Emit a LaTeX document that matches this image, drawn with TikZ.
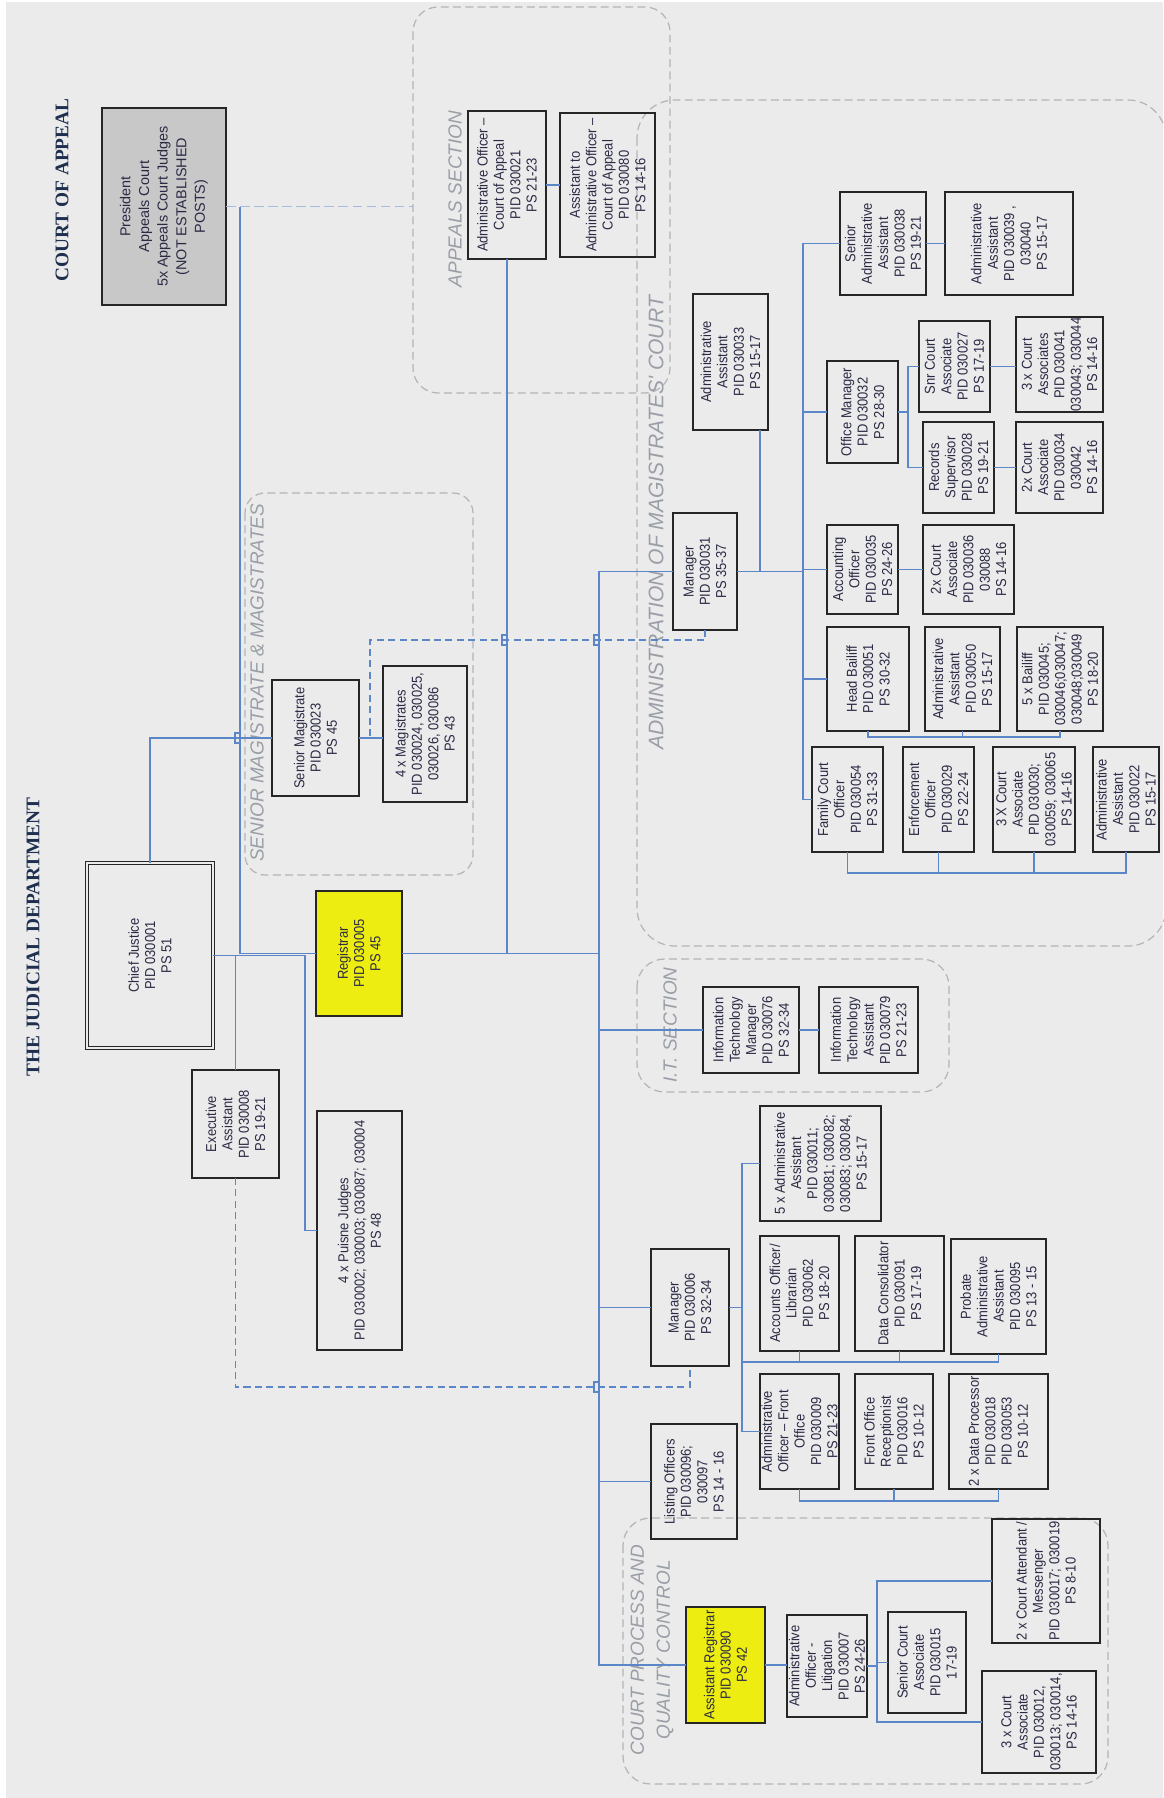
\documentclass[tikz,border=0pt]{standalone}
\usepackage{fontspec}
\usepackage{xcolor}
\newfontfamily\boxfont[FakeStretch=0.9]{Liberation Sans}
\newfontfamily\widefont{Liberation Sans}
\newfontfamily\titlefont{Liberation Serif}
\definecolor{bgc}{HTML}{EBEBEB}
\definecolor{boxline}{HTML}{262626}
\definecolor{boxtext}{HTML}{2A2A45}
\definecolor{linkblue}{HTML}{5B86C8}
\definecolor{framegray}{HTML}{B5B5B5}
\definecolor{labelgray}{HTML}{9A9EA6}
\definecolor{titlenavy}{HTML}{1F2F4F}
\definecolor{regyellow}{HTML}{EDED12}
\definecolor{presgray}{HTML}{C8C8C8}
\tikzset{
  post/.style={draw=boxline,line width=1.1pt,rotate=90,align=center,inner sep=0.5pt,outer sep=0pt,
    text=boxtext,font=\boxfont\fontsize{8.2}{9.3}\selectfont},
  dims/.style 2 args={minimum width=#2*0.02cm,minimum height=#1*0.02cm},
  chiefpost/.style={post,double=bgc,double distance=0.8pt,line width=0.75pt},
  keypost/.style={post,fill=regyellow},
  appealpost/.style={post,fill=presgray,font=\widefont\fontsize{8.2}{10.6}\selectfont},
  conn/.style={draw=linkblue,line width=0.9pt},
  dconn/.style={conn,dash pattern=on 4pt off 2.5pt},
  pconn/.style={draw=linkblue!55,line width=0.9pt,dash pattern=on 5.5pt off 2.5pt},
  secframe/.style={draw=framegray,line width=0.7pt,dash pattern=on 4.5pt off 2.5pt,rounded corners=#1},
  secframe/.default=0.5cm,
  seclabel/.style={rotate=90,text=labelgray,align=center,font=\widefont\itshape\fontsize{10.8}{14.8}\selectfont},
  pagetitle/.style={rotate=90,text=titlenavy,font=\titlefont\bfseries\fontsize{11}{13}\selectfont},
}

\begin{document}
\begin{tikzpicture}[x=0.02cm,y=-0.02cm]
  \useasboundingbox (0,0) rectangle (1163,1798);
  % page
  \fill[bgc] (6,2) rectangle (1163,1798);
  % section frames
  \draw[secframe=0.5cm] (413,7) rectangle (670,393);
  \draw[secframe=0.4cm] (245,493) rectangle (473,875);
  \draw[secframe=0.76cm] (637,100) rectangle (1166,946);
  \draw[secframe=0.55cm] (637,959) rectangle (949,1092);
  \draw[secframe=0.55cm] (623,1518) rectangle (1108,1784);
  \coordinate (appsecw) at (413,206.5);
  % section labels and titles
  \node[pagetitle] (ttlappeal) at (62,190) {COURT OF APPEAL};
  \node[pagetitle] (ttljud) at (33,937) {THE JUDICIAL DEPARTMENT};
  \node[seclabel] (lblapp) at (455,199) {APPEALS SECTION};
  \node[seclabel] (lblmag) at (257,683) {SENIOR MAGISTRATE \& MAGISTRATES};
  \node[seclabel,font=\widefont\itshape\fontsize{12}{14}\selectfont] (lbladm) at (656,523) {ADMINISTRATION OF MAGISTRATES' COURT};
  \node[seclabel] (lblit) at (670,1025) {I.T. SECTION};
  \node[seclabel] (lblcp) at (652,1650) {COURT PROCESS AND\\QUALITY CONTROL};

  % judges
  \node[appealpost,dims={124}{197}] (pres) at (164,206.5) {President\\Appeals Court\\5x Appeals Court Judges\\(NOT ESTABLISHED\\POSTS)};
  \node[chiefpost,dims={126}{185}] (chief) at (150,955.5) {Chief Justice\\PID 030001\\PS 51};
  \node[post,dims={87}{108}] (exec) at (235.5,1124) {Executive\\Assistant\\PID 030008\\PS 19-21};
  \node[keypost,dims={86}{125}] (reg) at (359,953.5) {Registrar\\PID 030005\\PS 45};
  \node[post,dims={85}{239}] (puisne) at (359.5,1230.5) {4 x Puisne Judges\\PID 030002; 030003; 030087; 030004\\PS 48};
  \node[post,dims={87}{116}] (senmag) at (315.5,738) {Senior Magistrate\\PID 030023\\PS 45};
  \node[post,dims={84}{136}] (mags) at (425,734) {4 x Magistrates\\PID 030024, 030025,\\030026, 030086\\PS 43};
  % appeals section
  \node[post,dims={78}{148}] (aoca) at (507,185) {Administrative Officer –\\Court of Appeal\\PID 030021\\PS 21-23};
  \node[post,dims={95}{144}] (asca) at (607.5,185) {Assistant to\\Administrative Officer –\\Court of Appeal\\PID 030080\\PS 14-16};
  % administration of magistrates' court
  \node[post,dims={64}{117}] (mgr1) at (705,571.5) {Manager\\PID 030031\\PS 35-37};
  \node[post,dims={75}{136}] (aa33) at (730.5,362) {Administrative\\Assistant\\PID 030033\\PS 15-17};
  \node[post,dims={86}{103}] (saa38) at (883,243.5) {Senior\\Administrative\\Assistant\\PID 030038\\PS 19-21};
  \node[post,dims={128}{103}] (aa39) at (1009,243.5) {Administrative\\Assistant\\PID 030039 ,\\030040\\PS 15-17};
  \node[post,dims={71}{102}] (om) at (862.5,412) {Office Manager\\PID 030032\\PS 28-30};
  \node[post,dims={71}{91}] (snrca) at (954.5,366.5) {Snr Court\\Associate\\PID 030027\\PS 17-19};
  \node[post,dims={87}{95}] (ca41) at (1059.5,364.5) {3 x Court\\Associates\\PID 030041\\030043; 030044\\PS 14-16};
  \node[post,dims={71}{91}] (recsup) at (958.5,467.5) {Records\\Supervisor\\PID 030028\\PS 19-21};
  \node[post,dims={87}{91}] (ca34) at (1059.5,467.5) {2x Court\\Associate\\PID 030034\\030042\\PS 14-16};
  \node[post,dims={71}{89}] (acc) at (862.5,569.5) {Accounting\\Officer\\PID 030035\\PS 24-26};
  \node[post,dims={91}{89}] (ca36) at (968.5,569.5) {2x Court\\Associate\\PID 030036\\030088\\PS 14-16};
  \node[post,dims={82}{104}] (hb) at (868,679) {Head Bailiff\\PID 030051\\PS 30-32};
  \node[post,dims={75}{104}] (aa50) at (962.5,679) {Administrative\\Assistant\\PID 030050\\PS 15-17};
  \node[post,dims={86}{104}] (bail) at (1060,679) {5 x Bailiff\\PID 030045;\\030046;030047;\\030048;030049\\PS 18-20};
  \node[post,dims={71}{105}] (fco) at (847.5,799.5) {Family Court\\Officer\\PID 030054\\PS 31-33};
  \node[post,dims={71}{105}] (enf) at (938.5,799.5) {Enforcement\\Officer\\PID 030029\\PS 22-24};
  \node[post,dims={82}{105}] (ca30) at (1034,799.5) {3 X Court\\Associate\\PID 030030;\\030059; 030065\\PS 14-16};
  \node[post,dims={66}{105}] (aa22) at (1126,799.5) {Administrative\\Assistant\\PID 030022\\PS 15-17};
  % i.t. section
  \node[post,dims={96}{86}] (itm) at (751,1030) {Information\\Technology\\Manager\\PID 030076\\PS 32-34};
  \node[post,dims={99}{86}] (ita) at (868.5,1030) {Information\\Technology\\Assistant\\PID 030079\\PS 21-23};
  % registry
  \node[post,dims={78}{117}] (mgr2) at (690,1307.5) {Manager\\PID 030006\\PS 32-34};
  \node[post,dims={121}{115}] (aa11) at (820.5,1163.5) {5 x Administrative\\Assistant\\PID 030011;\\030081; 030082;\\030083; 030084,\\PS 15-17};
  \node[post,dims={79}{115}] (acclib) at (799.5,1293.5) {Accounts Officer/\\Librarian\\PID 030062\\PS 18-20};
  \node[post,dims={89}{115}] (datac) at (899.5,1293.5) {Data Consolidator\\PID 030091\\PS 17-19};
  \node[post,dims={95}{115}] (prob) at (998.5,1296.5) {Probate\\Administrative\\Assistant\\PID 030095\\PS 13 - 15};
  \node[post,dims={79}{115}] (aofo) at (799.5,1431.5) {Administrative\\Officer – Front\\Office\\PID 030009\\PS 21-23};
  \node[post,dims={78}{115}] (recep) at (894,1431.5) {Front Office\\Receptionist\\PID 030016\\PS 10-12};
  \node[post,dims={99}{115}] (dproc) at (998.5,1431.5) {2 x Data Processor\\PID 030018\\PID 030053\\PS 10-12};
  \node[post,dims={86}{115}] (list) at (694,1481.5) {Listing Officers\\PID 030096;\\030097\\PS 14 - 16};
  % court process and quality control
  \node[keypost,dims={79}{116}] (areg) at (725.5,1665) {Assistant Registrar\\PID 030090\\PS 42};
  \node[post,dims={80}{102}] (aol) at (827,1666) {Administrative\\Officer -\\Litigation\\PID 030007\\PS 24-26};
  \node[post,dims={78}{101}] (sca) at (927,1662.5) {Senior Court\\Associate\\PID 030015\\17-19};
  \node[post,dims={108}{124}] (catt) at (1046,1581) {2 x Court Attendant /\\Messenger\\PID 030017; 030019\\PS 8-10};
  \node[post,dims={114}{102}] (ca12) at (1039,1722) {3 x Court\\Associate\\PID 030012,\\030013; 030014,\\PS 14-16};

  % top of the tree
  \coordinate (jpres) at (240,206.5);
  \draw[pconn] (pres.south) -- (pres.south -| appsecw);
  \draw[conn] (jpres) |- (reg.north);
  \coordinate (jcj) at (305,955.5);
  \draw[conn] (chief.south) -- (jcj) |- (puisne.north);
  \draw[conn] (exec.east) -- (exec.east |- chief.south);
  \draw[conn] (chief.east) |- (senmag.north);
  \draw[conn] (senmag.south) -- (senmag.south -| mags.north);
  \coordinate (jexec) at (235.5,1387);
  \draw[dconn] (exec.west) -- (jexec) -| (mgr2.west);
  \coordinate (jmag) at (370,640);
  \draw[dconn] (mgr1.west) |- (jmag) -- (jmag |- senmag.south);
  % appeals
  \draw[conn] (aoca.south) -- (aoca.south -| asca.north);
  \draw[conn] (aoca.west) -- (aoca.west |- reg.south);
  % registrar trunk
  \coordinate (jtrunk) at (599,571.5);
  \draw[conn] (reg.south) -- (reg.south -| jtrunk);
  \draw[conn] (mgr1.north) -- (jtrunk) |- (areg.north);
  \foreach \n in {itm,mgr2,list}
    \draw[conn] (\n.north) -- (\n.north -| jtrunk);
  % magistrates' court
  \coordinate (jadm) at (803,571.5);
  \draw[conn] (mgr1.south) -- (jadm);
  \coordinate (jaa33) at (760,571.5);
  \draw[conn] (jaa33) -- (jaa33 |- aa33.west);
  \draw[conn] (saa38.north) -- (saa38.north -| jadm) -- (jadm |- fco.north) -- (fco.north);
  \foreach \n in {om,acc,hb}
    \draw[conn] (\n.north) -- (\n.north -| jadm);
  \draw[conn] (saa38.south) -- (saa38.south -| aa39.north);
  \coordinate (jom) at (908,412);
  \draw[conn] (om.south) -- (jom);
  \draw[conn] (snrca.north) -| (jom);
  \draw[conn] (recsup.north) -| (jom);
  \draw[conn] (snrca.south) -- (snrca.south -| ca41.north);
  \draw[conn] (recsup.south) -- (recsup.south -| ca34.north);
  \draw[conn] (acc.south) -- (acc.south -| ca36.north);
  \coordinate (jbail) at (0,737);
  \draw[conn] (hb.west) -- (hb.west |- jbail) -| (bail.west);
  \draw[conn] (aa50.west) -- (aa50.west |- jbail);
  \coordinate (jfam) at (0,873);
  \draw[conn] (fco.west) -- (fco.west |- jfam) -| (aa22.west);
  \foreach \n in {enf,ca30}
    \draw[conn] (\n.west) -- (\n.west |- jfam);
  % i.t.
  \draw[conn] (itm.south) -- (ita.north);
  % registry
  \coordinate (jmgr) at (742,1307.5);
  \draw[conn] (mgr2.south) -- (jmgr);
  \draw[conn] (aa11.north) -| (jmgr);
  \draw[conn] (aofo.north) -| (jmgr);
  \coordinate (jrow) at (742,1362);
  \draw[conn] (jrow) -| (prob.west);
  \foreach \n in {acclib,datac}
    \draw[conn] (\n.west) -- (\n.west |- jrow);
  \coordinate (jfront) at (0,1501);
  \draw[conn] (aofo.west) -- (aofo.west |- jfront) -| (dproc.west);
  \draw[conn] (recep.west) -- (recep.west |- jfront);
  % court process
  \draw[conn] (areg.south) -- (areg.south -| aol.north);
  \coordinate (jlit) at (877,1666);
  \draw[conn] (aol.south) -- (jlit);
  \draw[conn] (catt.north) -| (jlit);
  \draw[conn] (ca12.north) -| (jlit);
  \draw[conn] (sca.north) -- (sca.north -| jlit);
  % line hops
  \foreach \hx/\hy in {240/738, 507/640, 599/640, 599/1387}
    \draw[conn] (\hx,\hy-5) -- (\hx-5,\hy-5) -- (\hx-5,\hy+5) -- (\hx,\hy+5);
\end{tikzpicture}
\end{document}
